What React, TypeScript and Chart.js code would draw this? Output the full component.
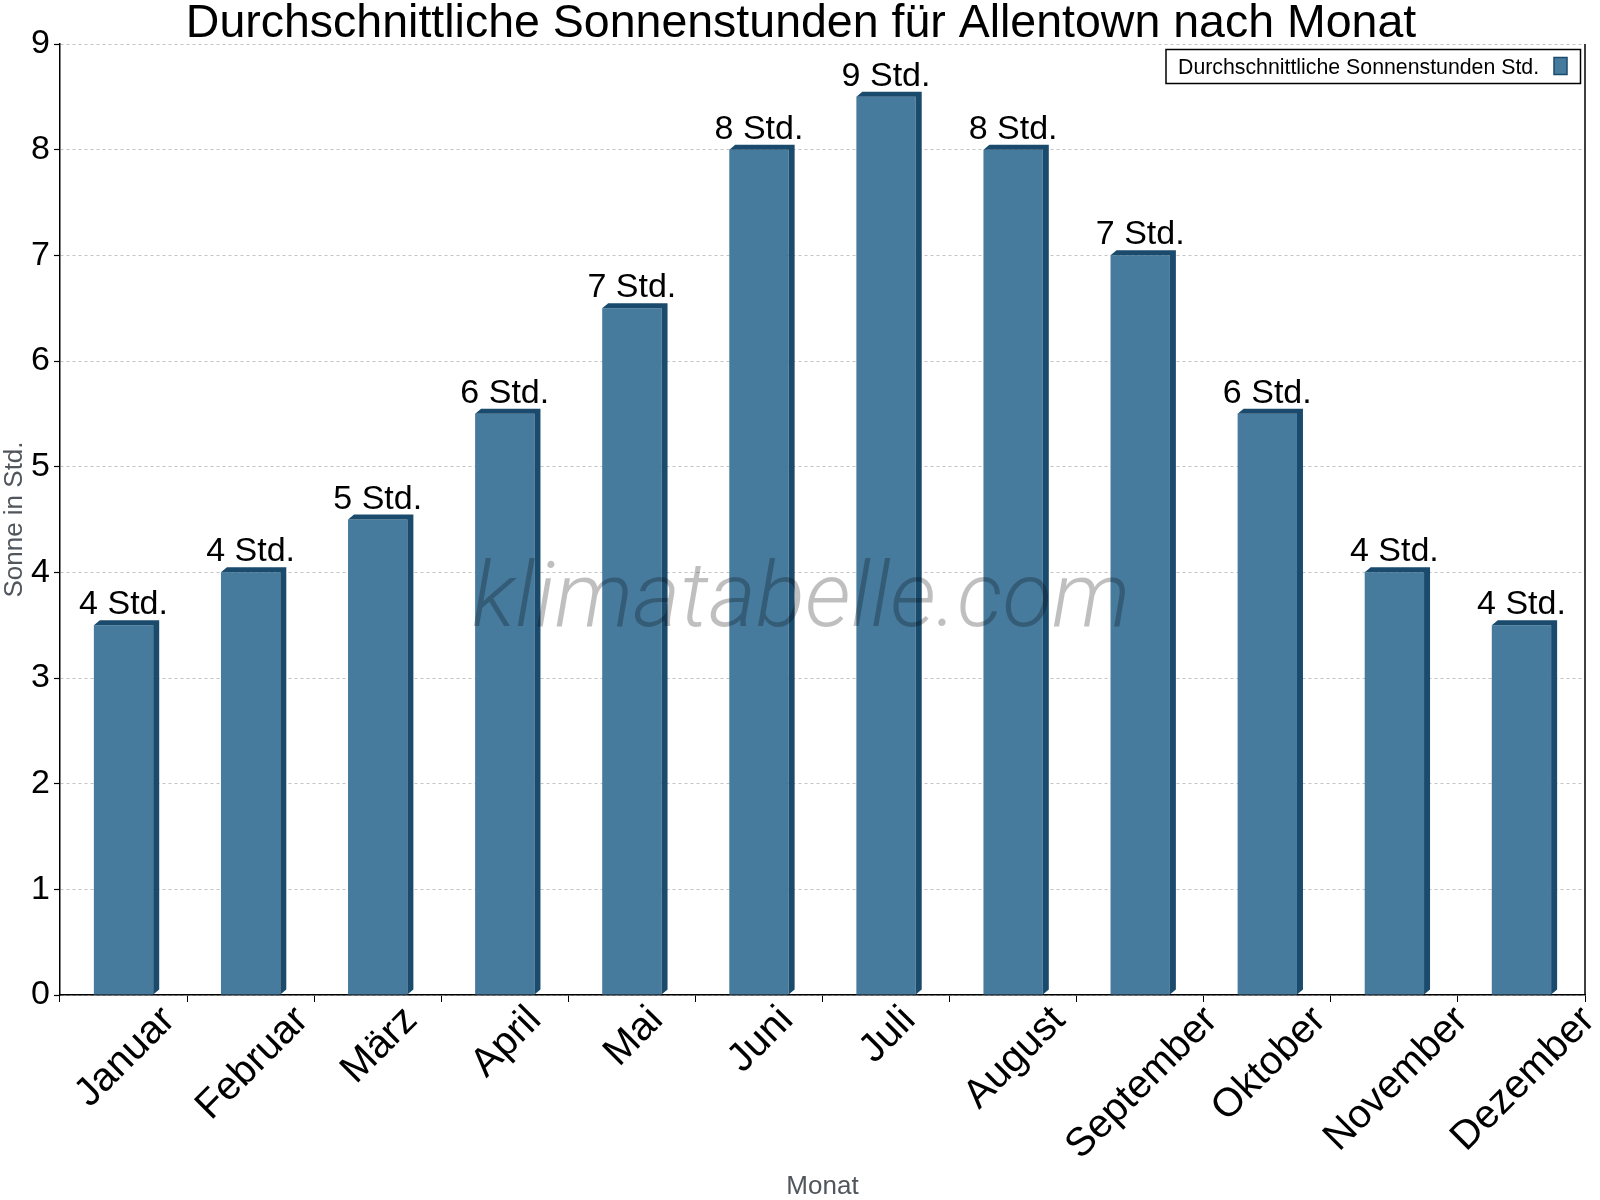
import { useEffect, useRef } from "react";
import { Chart, registerables } from "chart.js";

Chart.register(...registerables);

const MONTHS = [
  "Januar",
  "Februar",
  "März",
  "April",
  "Mai",
  "Juni",
  "Juli",
  "August",
  "September",
  "Oktober",
  "November",
  "Dezember",
];
const SUN_HOURS = [3.5, 4, 4.5, 5.5, 6.5, 8, 8.5, 8, 7, 5.5, 4, 3.5];
const Y_MIN = 0;
const Y_MAX = 9;

const TITLE = "Durchschnittliche Sonnenstunden für Allentown nach Monat";
const SERIES_LABEL = "Durchschnittliche Sonnenstunden Std.";
const Y_TITLE = "Sonne in Std.";
const X_TITLE = "Monat";
const WATERMARK = "klimatabelle.com";

const FONT = '"Liberation Sans", Arial, sans-serif';
const FRONT = "#467b9e";
const SIDE = "#1b4b6c";
const AXIS_TITLE_COLOR = "#50565c";

// 3D faces, watermark, value labels, title, legend and rotated month labels
const decor = {
  id: "decor",
  beforeDatasetsDraw(chart: Chart) {
    const { ctx, chartArea: a } = chart;
    ctx.save();
    ctx.strokeStyle = "#000";
    ctx.lineWidth = 1.5;
    ctx.beginPath();
    ctx.moveTo(a.right, a.top);
    ctx.lineTo(a.right, a.bottom);
    ctx.stroke();
    ctx.restore();
  },
  afterDatasetsDraw(chart: Chart) {
    const { ctx } = chart;
    const meta = chart.getDatasetMeta(0);
    const dx = 6;
    const dy = 5;
    ctx.save();
    ctx.fillStyle = SIDE;
    meta.data.forEach((el: any) => {
      const { x, y, base, width } = el.getProps(["x", "y", "base", "width"], true);
      const l = x - width / 2;
      const r = x + width / 2;
      ctx.beginPath();
      ctx.moveTo(l, y);
      ctx.lineTo(l + dx, y - dy);
      ctx.lineTo(r + dx, y - dy);
      ctx.lineTo(r + dx, base - dy);
      ctx.lineTo(r, base);
      ctx.lineTo(r, y);
      ctx.closePath();
      ctx.fill();
    });

    // watermark over the bars
    ctx.font = `italic 300 91px Roboto, ${FONT}`;
    ctx.fillStyle = "rgba(0,0,0,0.25)";
    ctx.textAlign = "center";
    ctx.textBaseline = "alphabetic";
    ctx.fillText(WATERMARK, 801, 626);

    // value labels
    ctx.font = `34px ${FONT}`;
    ctx.fillStyle = "#000";
    meta.data.forEach((el: any, i: number) => {
      const { x, y } = el.getProps(["x", "y"], true);
      ctx.fillText(`${Math.round(SUN_HOURS[i])} Std.`, x, y - 11);
    });
    ctx.restore();
  },
  afterDraw(chart: Chart) {
    const { ctx, chartArea: a } = chart;
    const xScale = chart.scales.x;
    ctx.save();

    // title
    ctx.fillStyle = "#000";
    ctx.font = `46.5px ${FONT}`;
    ctx.textAlign = "center";
    ctx.textBaseline = "alphabetic";
    ctx.fillText(TITLE, 801, 37);

    // legend
    const lx = 1166;
    const ly = 49.5;
    const lw = a.right - 4.5 - lx;
    ctx.strokeStyle = "#000";
    ctx.lineWidth = 1.5;
    ctx.fillStyle = "#fff";
    ctx.fillRect(lx, ly, lw, 34);
    ctx.strokeRect(lx, ly, lw, 34);
    ctx.fillStyle = "#000";
    ctx.font = `21.3px ${FONT}`;
    ctx.textAlign = "left";
    ctx.fillText(SERIES_LABEL, lx + 12, ly + 24);
    ctx.fillStyle = FRONT;
    ctx.fillRect(1554, 57.5, 13, 17);
    ctx.strokeStyle = SIDE;
    ctx.strokeRect(1554, 57.5, 13, 17);

    // month labels, rotated
    ctx.fillStyle = "#000";
    ctx.font = `40px ${FONT}`;
    ctx.textAlign = "center";
    ctx.textBaseline = "middle";
    MONTHS.forEach((m, i) => {
      const cx = xScale.getPixelForValue(i);
      const w = ctx.measureText(m).width;
      ctx.save();
      ctx.translate(cx + 2, a.bottom + 19 + 0.354 * w);
      ctx.rotate(-Math.PI / 4);
      ctx.fillText(m, 0, 0);
      ctx.restore();
    });

    // axis titles
    ctx.fillStyle = AXIS_TITLE_COLOR;
    ctx.font = `26px ${FONT}`;
    ctx.textBaseline = "alphabetic";
    ctx.fillText(X_TITLE, (a.left + a.right) / 2, 1194);
    ctx.save();
    ctx.translate(15, (a.top + a.bottom) / 2);
    ctx.rotate(-Math.PI / 2);
    ctx.textBaseline = "middle";
    ctx.fillText(Y_TITLE, 0, 0);
    ctx.restore();

    ctx.restore();
  },
};

export default function App() {
  const canvasRef = useRef<HTMLCanvasElement>(null);
  const chartRef = useRef<Chart | null>(null);

  useEffect(() => {
    if (!canvasRef.current) return;
    const ctx = canvasRef.current.getContext("2d");
    if (!ctx) return;

    chartRef.current?.destroy();
    chartRef.current = new Chart(ctx, {
      type: "bar",
      data: {
        labels: MONTHS,
        datasets: [
          {
            label: SERIES_LABEL,
            data: SUN_HOURS,
            backgroundColor: FRONT,
            borderWidth: 0,
            barPercentage: 0.467,
            categoryPercentage: 1,
          },
        ],
      },
      options: {
        animation: false,
        responsive: true,
        maintainAspectRatio: false,
        devicePixelRatio: 1,
        layout: { padding: { top: 44, right: 15, left: 0, bottom: 0 } },
        plugins: {
          legend: { display: false },
          title: { display: false },
          tooltip: { enabled: false },
        },
        scales: {
          x: {
            offset: true,
            grid: {
              display: true,
              offset: true,
              drawOnChartArea: false,
              drawTicks: true,
              tickLength: 7,
              color: "#000",
              tickColor: "#000",
            },
            border: { display: true, color: "#000", width: 1.5 },
            ticks: { display: false },
            afterFit: (s: any) => {
              s.height = 205;
            },
          },
          y: {
            min: Y_MIN,
            max: Y_MAX,
            ticks: {
              stepSize: 1,
              color: "#000",
              padding: 4,
              font: { size: 34, family: FONT },
            },
            grid: {
              color: "#c4c4c4",
              lineWidth: 1,
              tickColor: "#000",
              tickLength: 6,
              tickWidth: 1.2,
            },
            border: { display: true, color: "#000", width: 1.5, dash: [3, 3] },
            afterFit: (s: any) => {
              s.width = 60;
            },
          },
        },
      },
      plugins: [decor],
    });

    return () => chartRef.current?.destroy();
  }, []);

  return (
    <div style={{ position: "absolute", left: 0, top: 0, width: 1600, height: 1200, background: "#fff" }}>
      <canvas ref={canvasRef} />
    </div>
  );
}
